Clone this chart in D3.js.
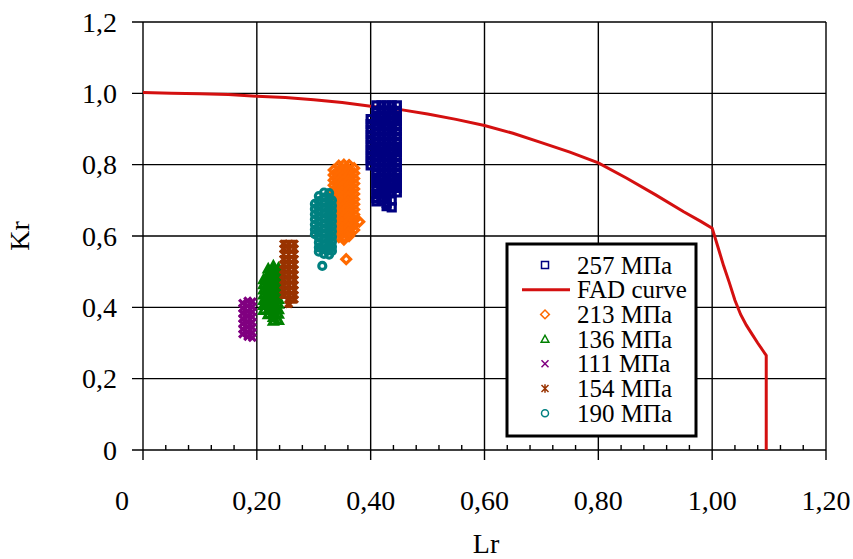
<!DOCTYPE html>
<html>
<head>
<meta charset="utf-8">
<script src="https://cdn.jsdelivr.net/npm/d3@7"></script>
<style>
  body { margin: 0; background: #fff; }
  svg text { font-family: "Liberation Serif", "Times New Roman", serif; fill: #000; }
</style>
</head>
<body>
<svg id="chart" width="853" height="559"></svg>
<script>
// axis ticks
const xTicks = [0, 0.2, 0.4, 0.6, 0.8, 1.0, 1.2];
const xTickLabels = ["0", "0,20", "0,40", "0,60", "0,80", "1,00", "1,20"];
const xMinor = [0.04, 0.08, 0.12, 0.16, 0.24, 0.28, 0.32, 0.36, 0.44, 0.48, 0.52, 0.56,
  0.64, 0.68, 0.72, 0.76, 0.84, 0.88, 0.92, 0.96, 1.04, 1.08, 1.12, 1.16];
const yTicks = [0, 0.2, 0.4, 0.6, 0.8, 1.0, 1.2];
const yTickLabels = ["0", "0,2", "0,4", "0,6", "0,8", "1,0", "1,2"];

// FAD curve
const fadLr = [0, 0.05, 0.10, 0.15, 0.20, 0.25, 0.30, 0.35, 0.40, 0.45, 0.50, 0.55, 0.60, 0.65,
  0.70, 0.75, 0.80, 0.85, 0.90, 0.95, 0.98, 1.00, 1.01, 1.02, 1.03, 1.04, 1.05, 1.06, 1.07, 1.08, 1.095, 1.095];
const fadKr = [1.002, 1.0, 0.999, 0.997, 0.992, 0.988, 0.982, 0.974, 0.964, 0.955, 0.942, 0.927, 0.910, 0.888,
  0.862, 0.835, 0.805, 0.762, 0.716, 0.668, 0.641, 0.622, 0.57, 0.517, 0.47, 0.42, 0.38, 0.35, 0.325, 0.30, 0.265, 0];

// scatter series: [Lr, [Kr, ...]] columns
const s257 = [
  [0.400, [0.928, 0.914, 0.899, 0.884, 0.870, 0.855, 0.841, 0.826, 0.812, 0.798]],
  [0.410, [0.966, 0.951, 0.937, 0.922, 0.908, 0.893, 0.879, 0.864, 0.850, 0.835, 0.821, 0.806, 0.792, 0.777, 0.763, 0.748, 0.734, 0.719, 0.706, 0.697]],
  [0.419, [0.966, 0.952, 0.937, 0.923, 0.908, 0.894, 0.879, 0.865, 0.850, 0.836, 0.821, 0.807, 0.792, 0.778, 0.763, 0.749, 0.734, 0.720, 0.708, 0.699]],
  [0.428, [0.966, 0.951, 0.937, 0.922, 0.908, 0.893, 0.879, 0.864, 0.850, 0.835, 0.821, 0.806, 0.792, 0.777, 0.763, 0.748, 0.734, 0.721, 0.709, 0.693, 0.684]],
  [0.437, [0.966, 0.952, 0.938, 0.923, 0.909, 0.894, 0.880, 0.865, 0.851, 0.836, 0.822, 0.807, 0.793, 0.778, 0.764, 0.749, 0.735, 0.722, 0.700, 0.680]],
  [0.446, [0.966, 0.951, 0.937, 0.922, 0.908, 0.893, 0.879, 0.864, 0.850, 0.835, 0.821, 0.806, 0.792, 0.777, 0.763, 0.748, 0.735, 0.722]]
];
const s213 = [
  [0.335, [0.785, 0.771, 0.756, 0.742, 0.727, 0.713, 0.698, 0.684, 0.669, 0.655, 0.640, 0.626, 0.612]],
  [0.344, [0.797, 0.783, 0.768, 0.754, 0.739, 0.725, 0.710, 0.696, 0.681, 0.667, 0.652, 0.638, 0.623, 0.609, 0.597]],
  [0.353, [0.800, 0.786, 0.771, 0.757, 0.742, 0.728, 0.713, 0.699, 0.684, 0.670, 0.655, 0.641, 0.626, 0.612, 0.598, 0.590]],
  [0.357, [0.535]],
  [0.362, [0.799, 0.785, 0.770, 0.756, 0.741, 0.727, 0.712, 0.698, 0.683, 0.669, 0.654, 0.640, 0.625, 0.611, 0.600]],
  [0.371, [0.790, 0.776, 0.761, 0.747, 0.732, 0.718, 0.703, 0.689, 0.674, 0.660, 0.645, 0.631, 0.617]],
  [0.380, [0.640]]
];
const s136 = [
  [0.212, [0.478, 0.464, 0.449, 0.435, 0.420, 0.406, 0.392]],
  [0.220, [0.508, 0.494, 0.479, 0.465, 0.450, 0.436, 0.421, 0.407, 0.393, 0.380]],
  [0.229, [0.516, 0.502, 0.487, 0.473, 0.458, 0.444, 0.429, 0.415, 0.400, 0.386, 0.372, 0.362]],
  [0.238, [0.510, 0.496, 0.481, 0.467, 0.452, 0.438, 0.423, 0.409, 0.394, 0.381, 0.364]]
];
const s111 = [
  [0.175, [0.412, 0.397, 0.383, 0.368, 0.354, 0.339, 0.325]],
  [0.184, [0.418, 0.404, 0.389, 0.375, 0.360, 0.346, 0.331, 0.318]],
  [0.192, [0.416, 0.402, 0.387, 0.373, 0.358, 0.344, 0.329, 0.315]]
];
const s154 = [
  [0.247, [0.578, 0.564, 0.549, 0.535, 0.520, 0.506, 0.491, 0.477, 0.462, 0.448, 0.435]],
  [0.256, [0.578, 0.563, 0.549, 0.534, 0.520, 0.505, 0.491, 0.476, 0.462, 0.447, 0.433, 0.420, 0.410]],
  [0.266, [0.578, 0.564, 0.549, 0.535, 0.520, 0.506, 0.491, 0.477, 0.462, 0.448, 0.434, 0.422]]
];
const s190 = [
  [0.302, [0.690, 0.676, 0.661, 0.647, 0.632, 0.618, 0.605]],
  [0.309, [0.712, 0.698, 0.683, 0.669, 0.654, 0.640, 0.625, 0.611, 0.596, 0.582, 0.568, 0.556]],
  [0.315, [0.516]],
  [0.318, [0.722, 0.708, 0.693, 0.679, 0.664, 0.650, 0.635, 0.621, 0.606, 0.592, 0.577, 0.563, 0.550]],
  [0.327, [0.720, 0.706, 0.691, 0.677, 0.662, 0.648, 0.633, 0.619, 0.604, 0.590, 0.575, 0.561, 0.548]],
  [0.332, [0.700, 0.685, 0.671, 0.656, 0.642, 0.627, 0.613, 0.598, 0.584, 0.570, 0.558]]
];

const legendLabels = ["257 МПа", "FAD curve", "213 МПа", "136 МПа", "111 МПа", "154 МПа", "190 МПа"];

const svg = d3.select('#chart');
const x = d3.scaleLinear().domain([0, 1.2]).range([143, 826]);
const y = d3.scaleLinear().domain([0, 1.2]).range([450, 22]);

// marker paths (hollow)
function markerPath(shape, s) {
  const h = s / 2;
  switch (shape) {
    case 'square': return `M${-h},${-h}H${h}V${h}H${-h}Z`;
    case 'diamond': return `M0,${-h * 1.25}L${h * 1.25},0L0,${h * 1.25}L${-h * 1.25},0Z`;
    case 'triangle': return `M0,${-h * 1.1}L${h * 1.1},${h * 0.9}L${-h * 1.1},${h * 0.9}Z`;
    case 'times': return `M${-h},${-h}L${h},${h}M${h},${-h}L${-h},${h}`;
    case 'star': return `M${-h},${-h}L${h},${h}M${h},${-h}L${-h},${h}M0,${-h * 1.2}V${h * 1.2}`;
    case 'circle': return d3.arc()({innerRadius: 0, outerRadius: h, startAngle: 0, endAngle: 2 * Math.PI});
  }
}

const styles = [
  {cols: s257, color: '#000080', shape: 'square'},
  {cols: s213, color: '#ff6a00', shape: 'diamond'},
  {cols: s136, color: '#008000', shape: 'triangle'},
  {cols: s111, color: '#800080', shape: 'times'},
  {cols: s154, color: '#993300', shape: 'star'},
  {cols: s190, color: '#008080', shape: 'circle'}
];

// grid
const grid = svg.append('g').attr('stroke', '#000').attr('stroke-width', 1.4);
grid.selectAll('line.v').data(xTicks).join('line')
  .attr('x1', d => x(d)).attr('x2', d => x(d))
  .attr('y1', y(1.2)).attr('y2', y(0) + 10);
grid.selectAll('line.h').data(yTicks).join('line')
  .attr('x1', x(0) - 11).attr('x2', x(1.2))
  .attr('y1', d => y(d)).attr('y2', d => y(d));
grid.selectAll('line.m').data(xMinor).join('line')
  .attr('x1', d => x(d)).attr('x2', d => x(d))
  .attr('y1', y(0)).attr('y2', y(0) - 5);

// tick labels
svg.append('g').selectAll('text').data(xTicks).join('text')
  .attr('x', (d, i) => x(d) - (i === 0 ? 21 : 0))
  .attr('y', 510)
  .attr('text-anchor', 'middle')
  .attr('font-size', 28)
  .text((d, i) => xTickLabels[i]);
svg.append('g').selectAll('text').data(yTicks).join('text')
  .attr('x', 117)
  .attr('y', d => y(d) + 9.5)
  .attr('text-anchor', 'end')
  .attr('font-size', 28)
  .text((d, i) => yTickLabels[i]);

// axis titles
svg.append('text').attr('x', 486).attr('y', 553).attr('text-anchor', 'middle')
  .attr('font-size', 28).text('Lr');
svg.append('text').attr('transform', 'translate(29,236) rotate(-90)')
  .attr('text-anchor', 'middle').attr('font-size', 28).text('Kr');

// FAD curve
const fadLine = d3.line().x(d => x(d[0])).y(d => y(d[1]));
svg.append('path')
  .datum(fadLr.map((v, i) => [v, fadKr[i]]))
  .attr('d', fadLine)
  .attr('fill', 'none')
  .attr('stroke', '#d41010')
  .attr('stroke-width', 3);

// scatter
styles.forEach((st, si) => {
  const pts = st.cols.flatMap(([lr, krs]) => krs.map(k => [lr, k]));
  svg.append('g').attr('class', 'series-' + si)
    .selectAll('path').data(pts).join('path')
    .attr('transform', d => `translate(${x(d[0])},${y(d[1])})`)
    .attr('d', markerPath(st.shape, 7))
    .attr('fill', 'none')
    .attr('stroke', st.color)
    .attr('stroke-width', 3.2);
});

// legend
const lg = svg.append('g');
lg.append('rect').attr('x', 507).attr('y', 244).attr('width', 189).attr('height', 192)
  .attr('fill', '#fff').attr('stroke', '#000').attr('stroke-width', 3);
const legendStyles = [styles[0], null, styles[1], styles[2], styles[3], styles[4], styles[5]];
legendLabels.forEach((lab, i) => {
  const cy = 265 + i * 24.7;
  const st = legendStyles[i];
  if (st) {
    lg.append('path').attr('transform', `translate(545,${cy})`)
      .attr('d', markerPath(st.shape, 7)).attr('fill', 'none')
      .attr('stroke', st.color).attr('stroke-width', 1.5);
  } else {
    lg.append('line').attr('x1', 522).attr('x2', 570).attr('y1', cy).attr('y2', cy)
      .attr('stroke', '#d41010').attr('stroke-width', 3);
  }
  lg.append('text').attr('x', 577).attr('y', cy + 8.5).attr('font-size', 25).text(lab);
});
</script>
</body>
</html>
